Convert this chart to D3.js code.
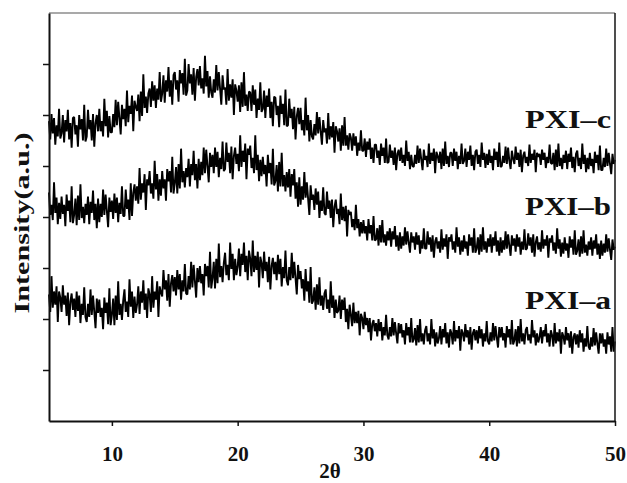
<!DOCTYPE html>
<html>
<head>
<meta charset="utf-8">
<script src="https://cdn.jsdelivr.net/npm/d3@7"></script>
<style>
body{margin:0;background:#fff;}
svg text{font-family:"Liberation Serif","Times New Roman",Times,serif;font-weight:bold;fill:#111;}
</style>
</head>
<body>
<div id="chart"></div>
<script>
// scan grid: 2theta from 5 to 50 deg, step 0.1
var thetaStart = 5, thetaStep = 0.1;

// intensities (a.u., offset stacked), one row per degree
var pxiC = [
294,276,301,282,297,271,290,279,306,277,
282,300,273,295,284,305,276,292,268,297,
298,281,290,269,300,286,296,275,310,274,
279,305,286,295,275,301,269,292,300,284,
306,284,294,279,316,289,304,278,299,283,
283,301,288,315,290,313,297,281,310,296,
306,289,324,293,309,301,319,284,314,308,
304,320,294,323,299,340,307,318,302,321,
326,308,333,314,329,307,326,315,342,313,
321,339,312,334,323,347,318,334,310,339,
342,325,334,313,344,331,341,320,355,319,
324,350,331,340,320,346,314,337,345,329,
348,326,336,321,358,328,343,317,338,322,
317,335,322,349,324,342,326,310,339,325,
327,310,345,314,330,317,335,300,330,324,
313,329,303,332,308,342,309,320,304,323,
322,304,329,310,325,297,316,305,332,303,
306,324,297,319,308,326,297,313,289,318,
317,300,309,288,319,301,311,290,325,289,
290,316,297,306,286,308,276,299,307,291,
307,285,295,280,317,285,300,274,295,279,
276,291,280,303,282,298,284,271,295,283,
287,272,302,276,289,278,293,263,289,284,
274,287,265,290,270,298,270,280,266,282,
278,265,282,270,279,260,273,265,285,265,
265,277,259,274,266,277,257,268,253,271,
271,258,265,251,272,260,268,253,277,253,
254,271,258,265,251,268,246,262,266,255,
268,253,261,250,275,255,264,247,261,250,
249,261,252,270,253,267,256,246,266,256,
260,249,272,252,263,255,267,243,264,260,
253,264,247,267,250,274,252,260,249,263,
263,250,267,255,264,247,260,252,272,252,
255,267,249,264,256,270,250,261,246,264,
266,252,261,249,273,256,263,248,262,251,
266,253,260,246,267,256,264,249,273,249,
250,260,253,269,252,268,255,247,265,257,
252,269,256,263,249,266,244,260,264,253,
259,250,271,253,262,256,266,244,263,259,
262,251,266,256,263,248,259,253,271,253,
252,263,246,266,249,272,250,258,247,261,
253,265,247,262,254,268,248,259,244,262,
265,250,258,247,272,252,261,244,258,247,
263,250,257,243,264,253,261,246,270,246,
246,258,249,267,250,263,252,242,262,252,
256];

var pxiB = [
224,202,212,197,234,204,219,193,214,198,
220,203,212,191,222,206,216,195,230,194,
202,218,192,221,197,232,199,210,194,213,
202,220,193,215,204,226,197,213,189,218,
195,213,200,227,202,222,206,190,219,205,
216,198,223,204,219,195,214,203,230,201,
201,227,208,217,197,233,201,224,232,216,
230,213,248,217,233,224,242,207,237,231,
245,223,233,218,255,227,242,216,237,221,
245,228,237,216,247,235,245,224,259,223,
233,249,223,252,228,267,234,245,229,248,
239,257,230,252,241,265,236,252,228,257,
236,254,241,268,243,266,250,234,263,249,
261,243,268,249,264,239,258,247,274,245,
247,273,254,263,243,269,237,260,268,252,
262,245,280,249,265,254,272,237,267,261,
270,248,258,243,280,246,261,235,256,240,
259,242,251,230,261,243,253,232,267,231,
235,251,225,254,230,263,230,241,225,244,
229,247,220,242,231,247,218,234,210,239,
212,230,217,244,219,234,218,202,231,217,
222,207,228,212,225,199,216,206,229,204,
202,225,208,216,199,217,190,210,217,203,
208,193,223,197,210,196,211,181,207,202,
205,190,198,187,212,189,198,181,195,184,
197,184,191,177,198,184,192,177,201,177,
178,189,172,192,175,197,175,183,172,186,
177,189,171,186,178,191,171,182,167,185,
169,181,172,190,173,186,175,165,185,175,
181,168,185,173,182,164,177,169,189,169,
169,186,173,180,166,182,160,176,180,169,
176,165,188,168,179,171,183,159,180,176,
183,168,176,165,190,171,180,163,177,166,
182,169,176,162,183,172,180,165,189,165,
169,180,163,183,166,190,168,176,165,179,
171,183,165,180,172,186,166,177,162,180,
165,177,168,186,169,183,172,162,182,172,
179,166,183,171,180,163,176,168,188,168,
169,184,172,180,165,183,161,175,181,168,
175,166,187,169,178,172,182,160,179,175,
182,167,175,164,189,169,178,161,175,164,
180,167,174,160,181,170,178,163,187,163,
167,178,161,181,164,187,165,173,162,176,
168,180,162,177,169,183,163,174,159,177,
162,174,165,183,166,179,168,158,178,168,
171];

var pxiA = [
124,107,142,111,127,114,132,97,127,121,
107,133,114,123,103,126,94,117,125,109,
120,102,127,108,123,96,115,104,131,102,
97,115,102,129,104,123,107,91,120,106,
119,102,111,90,121,106,116,95,130,94,
104,120,94,123,99,137,104,115,99,118,
129,107,117,102,139,112,127,101,122,106,
114,132,105,127,116,138,109,125,101,130,
124,107,142,111,127,119,137,102,132,126,
122,148,129,138,118,144,112,135,143,127,
141,123,148,129,144,119,138,127,154,125,
124,142,129,156,131,153,137,121,150,136,
152,135,144,123,154,142,152,131,166,130,
140,156,130,159,135,174,141,152,136,155,
165,143,153,138,175,149,164,138,159,143,
151,169,142,164,153,175,146,162,138,167,
159,142,177,146,162,148,166,131,161,155,
140,166,147,156,136,161,129,152,160,144,
156,138,163,144,159,132,151,140,167,138,
133,151,138,165,140,156,140,124,153,139,
147,130,139,118,149,127,137,116,151,115,
118,131,109,134,114,141,113,123,109,125,
129,110,119,106,137,111,123,101,119,106,
108,123,100,119,109,121,97,110,90,114,
104,93,116,96,107,96,108,84,105,101,
90,107,94,101,87,101,79,95,99,88,
96,83,100,88,97,79,92,84,104,84,
80,92,83,101,84,97,86,76,96,86,
95,82,89,75,96,84,92,77,101,77,
80,91,74,94,77,100,78,86,75,89,
93,78,86,75,100,81,90,73,87,76,
81,93,75,90,82,96,76,87,72,90,
86,75,98,78,89,81,93,69,90,86,
78,95,82,89,75,92,70,86,90,79,
89,76,93,81,90,73,86,78,98,78,
75,87,78,96,79,93,82,72,92,82,
92,79,86,72,93,82,90,75,99,75,
79,90,73,93,76,100,78,86,75,89,
92,79,85,76,99,82,89,74,86,77,
82,92,76,89,83,95,77,86,73,89,
84,73,96,76,87,78,90,66,87,83,
75,92,79,86,72,88,66,82,86,75,
85,72,89,77,86,68,81,73,93,73,
70,82,73,91,74,87,76,66,86,76,
86,73,80,66,87,75,83,68,92,68,
78];

var seriesNames = ["PXI\u2013c", "PXI\u2013b", "PXI\u2013a"];
var xTicks = [10, 20, 30, 40, 50];
var yTicks = [50, 100, 150, 200, 250, 300, 350];

var margin = {top: 13, right: 12, bottom: 62, left: 49},
    width = 627 - margin.left - margin.right,
    height = 483 - margin.top - margin.bottom;

var x = d3.scaleLinear().domain([5, 50]).range([0, width]);
var y = d3.scaleLinear().domain([0, 400]).range([height, 0]);

var svg = d3.select("#chart").append("svg")
    .attr("width", 627)
    .attr("height", 483)
    .append("g")
    .attr("transform", "translate(" + margin.left + "," + margin.top + ")");

var line = d3.line()
    .x(function (d, i) { return x(thetaStart + i * thetaStep); })
    .y(function (d) { return y(d); });

var series = [pxiC, pxiB, pxiA];

svg.selectAll(".trace")
    .data(series)
    .enter().append("path")
    .attr("class", "trace")
    .attr("d", line)
    .attr("fill", "none")
    .attr("stroke", "#000")
    .attr("stroke-width", 1.9)
    .attr("stroke-linejoin", "bevel");

// frame top + right
svg.append("line").attr("x1", 0).attr("x2", width).attr("y1", 0).attr("y2", 0)
    .attr("stroke", "#555").attr("stroke-width", 1.2);
svg.append("line").attr("x1", width).attr("x2", width).attr("y1", 0).attr("y2", height)
    .attr("stroke", "#222").attr("stroke-width", 1.6);

// x axis
var xa = svg.append("g")
    .attr("transform", "translate(0," + height + ")")
    .call(d3.axisBottom(x).tickValues(xTicks).tickSize(5).tickSizeOuter(0).tickPadding(20));
xa.select(".domain").attr("stroke", "#111").attr("stroke-width", 2);
xa.selectAll(".tick line").attr("stroke", "#111").attr("stroke-width", 1.5);
xa.selectAll("text").style("font-size", "21px").attr("fill", "#111");

// y axis, ticks only
var ya = svg.append("g")
    .call(d3.axisLeft(y).tickValues(yTicks).tickSize(6).tickSizeOuter(0).tickFormat(""));
ya.select(".domain").attr("stroke", "#111").attr("stroke-width", 2);
ya.selectAll(".tick line").attr("stroke", "#111").attr("stroke-width", 1.5);

// axis titles
svg.append("text")
    .attr("x", width / 2 - 2)
    .attr("y", 465)
    .attr("text-anchor", "middle")
    .style("font-size", "21px")
    .text("2\u03b8");

svg.append("text")
    .attr("transform", "translate(-20," + (223 - margin.top) + ") rotate(-90)")
    .attr("text-anchor", "middle")
    .attr("textLength", 181)
    .attr("lengthAdjust", "spacingAndGlyphs")
    .style("font-size", "22px")
    .text("Intensity(a.u.)");

// series names above the tail of each trace
svg.selectAll(".lbl")
    .data(series)
    .enter().append("text")
    .attr("class", "lbl")
    .attr("x", 525 - margin.left)
    .attr("y", function (d) { return y(d[d.length - 1]) - 32; })
    .attr("textLength", 86)
    .attr("lengthAdjust", "spacingAndGlyphs")
    .style("font-size", "26px")
    .text(function (d, i) { return seriesNames[i]; });
</script>
</body>
</html>
